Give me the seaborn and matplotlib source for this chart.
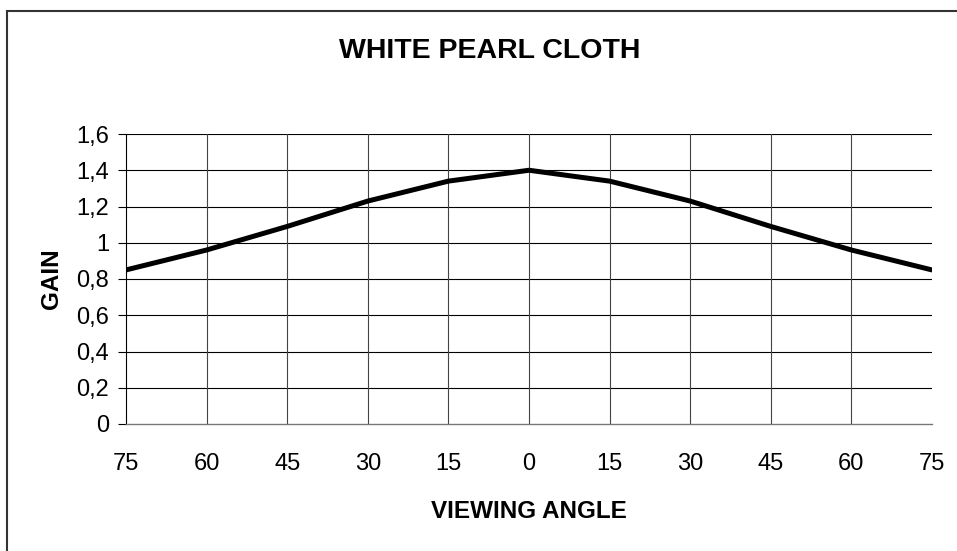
import matplotlib
matplotlib.use("Agg")
import matplotlib.pyplot as plt
from matplotlib.patches import Rectangle
import pandas as pd
import seaborn as sns

# data
angles = ["75", "60", "45", "30", "15", "0", "15", "30", "45", "60", "75"]
gain = [0.85, 0.96, 1.09, 1.23, 1.34, 1.40, 1.34, 1.23, 1.09, 0.96, 0.85]
y_ticks = [0, 0.2, 0.4, 0.6, 0.8, 1.0, 1.2, 1.4, 1.6]
y_labels = ["0", "0,2", "0,4", "0,6", "0,8", "1", "1,2", "1,4", "1,6"]

df = pd.DataFrame({"pos": range(len(angles)), "gain": gain})

sns.set_style("white")
plt.rcParams["font.family"] = ["Liberation Sans", "DejaVu Sans"]
plt.rcParams["text.color"] = "black"
plt.rcParams["axes.labelcolor"] = "black"
plt.rcParams["xtick.color"] = "black"
plt.rcParams["ytick.color"] = "black"

fig = plt.figure(figsize=(9.57, 5.51), dpi=100)
ax = fig.add_axes([126 / 957, 127 / 551, 806 / 957, 290 / 551])

sns.lineplot(x="pos", y="gain", data=df, color="black", linewidth=3.6, ax=ax)

ax.set_xlim(0, len(angles) - 1)
ax.set_ylim(0, 1.6)
ax.set_xticks(range(len(angles)))
ax.set_xticklabels(angles, fontsize=17)
ax.set_yticks(y_ticks)
ax.set_yticklabels(y_labels, fontsize=17)
ax.tick_params(axis="x", length=0, pad=21)
ax.tick_params(axis="y", length=6, width=0.8, pad=6, direction="out", left=True)

# excel style grid
for y in y_ticks[1:]:
    ax.axhline(y, color="black", linewidth=0.8, zorder=0)
for x in range(1, len(angles) - 1):
    ax.axvline(x, color="#444444", linewidth=0.8, zorder=0)

for s in ["top", "right"]:
    ax.spines[s].set_visible(False)
ax.spines["left"].set_color("black")
ax.spines["left"].set_linewidth(0.8)
ax.spines["bottom"].set_color("#777777")
ax.spines["bottom"].set_linewidth(1.0)

ax.set_xlabel("VIEWING ANGLE", fontsize=17.5, fontweight="bold")
ax.set_ylabel("GAIN", fontsize=17.5, fontweight="bold")
ax.xaxis.set_label_coords(0.5, -0.262)
ax.yaxis.set_label_coords(-0.078, 0.5)

fig.text(490 / 957, 1 - 51 / 551, "WHITE PEARL CLOTH", fontsize=20.5, fontweight="bold",
         ha="center", va="center")

# outer chart border
fig.patches.append(Rectangle((7 / 957, -0.2), 1.5, 1 - 11 / 551 + 0.2, transform=fig.transFigure,
                             fill=False, edgecolor="#333333", linewidth=1.5))

plt.savefig("out.png", dpi=100)
